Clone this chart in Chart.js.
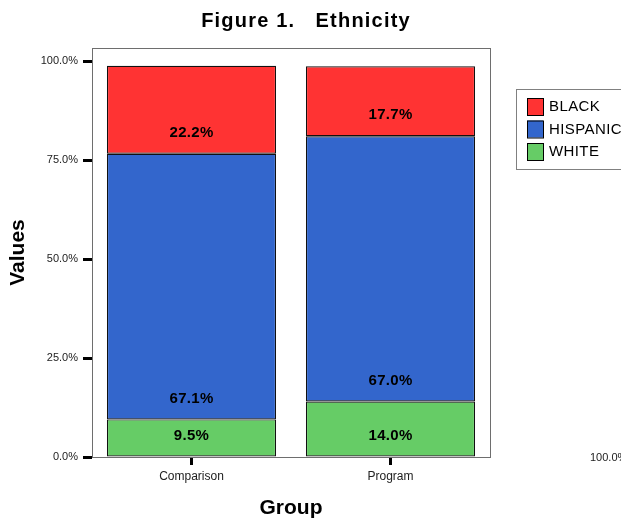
<!DOCTYPE html>
<html>
<head>
<meta charset="utf-8">
<script src="https://cdn.jsdelivr.net/npm/chart.js@4/dist/chart.umd.min.js"></script>
<style>
  html, body { margin: 0; padding: 0; background: #fff; }
  #chart { display: block; }
</style>
</head>
<body>
<canvas id="chart" width="621" height="521"></canvas>
<script>
// Groups on the x axis
const groups = ['Comparison', 'Program'];
// Percentage of each ethnicity within each group
const white    = [9.5, 14.0];
const hispanic = [67.1, 67.0];
const black    = [22.2, 17.7];
// Value-axis tick positions
const yTicks = [0, 25, 50, 75, 100];
const stray = 100; // lone percentage label right of the legend
const chartTitle = 'Figure 1.   Ethnicity';

const FONT = "'Liberation Sans', Arial, sans-serif";
const pct = v => v.toFixed(1) + '%';

// Heading, drawn with a little letter spacing
const heading = {
  id: 'heading',
  afterDraw(chart) {
    const { ctx } = chart;
    ctx.save();
    ctx.font = 'bold 20px ' + FONT;
    ctx.letterSpacing = '1.2px';
    ctx.fillStyle = '#000';
    ctx.textAlign = 'center';
    ctx.textBaseline = 'middle';
    ctx.fillText(chartTitle, 306, 21);
    ctx.restore();
  }
};

// Frame around the plot area
const framePlugin = {
  id: 'frame',
  beforeDatasetsDraw(chart) {
    const { ctx, chartArea: a } = chart;
    ctx.save();
    ctx.strokeStyle = '#6e6e6e';
    ctx.lineWidth = 1;
    ctx.strokeRect(Math.round(a.left) + 0.5, Math.round(a.top) + 0.5,
                   Math.round(a.right - a.left), Math.round(a.bottom - a.top));
    ctx.restore();
  }
};

// Percentage label near the bottom of each stacked segment
const segLabels = {
  id: 'segLabels',
  afterDatasetsDraw(chart) {
    const { ctx } = chart;
    ctx.save();
    ctx.font = 'bold 15px ' + FONT;
    ctx.letterSpacing = '0.3px';
    ctx.fillStyle = '#000';
    ctx.textAlign = 'center';
    ctx.textBaseline = 'middle';
    chart.data.datasets.forEach((ds, i) => {
      chart.getDatasetMeta(i).data.forEach((el, j) => {
        ctx.fillText(pct(ds.data[j]), el.x, el.base - 21);
      });
    });
    ctx.restore();
  }
};

// Boxed legend to the right of the plot, top series first
const boxLegend = {
  id: 'boxLegend',
  afterDraw(chart) {
    const { ctx, chartArea: a } = chart;
    const x0 = Math.round(a.right) + 26, y0 = 89;
    ctx.save();
    ctx.strokeStyle = '#808080';
    ctx.lineWidth = 1;
    ctx.strokeRect(x0 + 0.5, y0 + 0.5, 140, 80);
    ctx.font = '15px ' + FONT;
    ctx.letterSpacing = '0.4px';
    ctx.textBaseline = 'middle';
    ctx.textAlign = 'left';
    const items = chart.data.datasets.slice().reverse();
    items.forEach((ds, k) => {
      const sy = y0 + 9 + k * 22.5;
      ctx.fillStyle = ds.backgroundColor;
      ctx.fillRect(x0 + 11, sy, 16, 17);
      ctx.strokeStyle = '#000';
      ctx.strokeRect(x0 + 11.5, sy + 0.5, 16, 17);
      ctx.fillStyle = '#000';
      ctx.fillText(ds.label, x0 + 33, sy + 9);
    });
    // stray scale label at the bottom right
    ctx.letterSpacing = '0px';
    ctx.font = '11px ' + FONT;
    ctx.fillStyle = '#222';
    ctx.fillText(pct(stray), 590, a.bottom + 1);
    ctx.restore();
  }
};

new Chart(document.getElementById('chart'), {
  type: 'bar',
  data: {
    labels: groups,
    datasets: [
      { label: 'WHITE',    data: white,    backgroundColor: '#66cc66' },
      { label: 'HISPANIC', data: hispanic, backgroundColor: '#3366cc' },
      { label: 'BLACK',    data: black,    backgroundColor: '#ff3333' }
    ].map(d => Object.assign(d, {
      borderColor: '#111', borderWidth: 1.2, borderSkipped: false,
      categoryPercentage: 1, barPercentage: 0.85
    }))
  },
  options: {
    responsive: false,
    animation: false,
    devicePixelRatio: 1,
    layout: { padding: { left: 2, right: 10, top: 48, bottom: 0 } },
    plugins: {
      legend: { display: false },
      tooltip: { enabled: false },
      title: { display: false }
    },
    scales: {
      x: {
        stacked: true,
        offset: true,
        border: { display: false },
        grid: { offset: false, drawOnChartArea: false, drawTicks: true,
                tickLength: 8, tickWidth: 3, tickColor: '#000' },
        ticks: { color: '#222', padding: 4, font: { family: FONT, size: 12 } },
        title: { display: true, text: 'Group', color: '#000',
                 font: { family: FONT, size: 21, weight: 'bold' },
                 padding: { top: 4, bottom: 0 } },
        afterFit(s) { s.height = 64; }
      },
      y: {
        stacked: true,
        min: 0,
        max: 103.3,
        border: { display: false },
        grid: { drawOnChartArea: false, drawTicks: true,
                tickLength: 9, tickWidth: 3, tickColor: '#000' },
        ticks: { color: '#222', padding: 5, font: { family: FONT, size: 11 },
                 callback: v => pct(v) },
        afterBuildTicks(s) { s.ticks = yTicks.map(v => ({ value: v })); },
        title: { display: true, text: 'Values', color: '#000',
                 font: { family: FONT, size: 21, weight: 'bold' },
                 padding: { top: 4, bottom: 4 } },
        afterFit(s) { s.width = 90; }
      },
      side: {
        axis: 'y',
        position: 'right',
        display: true,
        grid: { display: false },
        border: { display: false },
        ticks: { display: false },
        afterFit(s) { s.width = 121; }
      }
    }
  },
  plugins: [framePlugin, segLabels, boxLegend, heading]
});
</script>
</body>
</html>
